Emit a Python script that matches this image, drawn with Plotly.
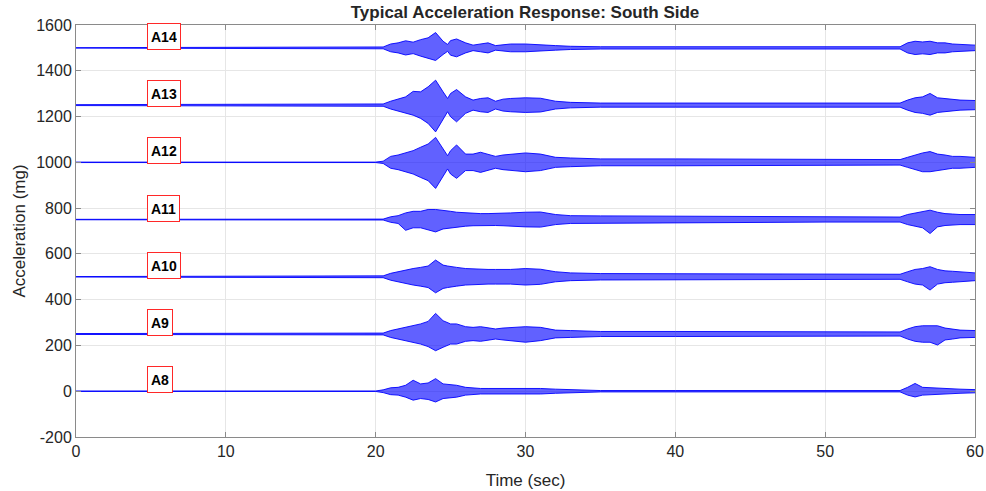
import plotly.graph_objects as go

# Time grid (sec) at which the signal envelopes were read
time_s = [0, 20, 20.5, 21, 21.5, 22, 22.5, 23, 23.5, 24, 24.5, 24.8, 25, 25.4, 26, 26.5, 27, 27.5, 28, 28.5,
          29, 30, 31, 32, 33, 35, 40, 44, 50, 55, 55.5, 56, 56.5, 57, 57.5, 58, 58.5, 59, 60]

channels = ["A14", "A13", "A12", "A11", "A10", "A9", "A8"]
offsets_mg = [1500, 1250, 1000, 750, 500, 250, 0]

# Envelope amplitudes (mg) above / below each channel's offset
A14_upper = [1, 1, 4, 17, 22, 31, 25, 36, 44, 67, 29, 15, 32, 39, 22, 12, 17, 22, 10, 15,
             17, 17, 15, 10, 7, 5, 5, 5, 5, 5, 22, 29, 26, 29, 22, 22, 17, 15, 12]
A14_lower = [1, 1, 4, 17, 22, 31, 25, 36, 44, 55, 29, 15, 32, 39, 22, 12, 17, 22, 10, 15,
             17, 17, 15, 10, 7, 5, 5, 5, 5, 5, 22, 29, 26, 29, 22, 22, 17, 15, 12]
A13_upper = [2, 2, 5, 17, 26, 36, 60, 58, 80, 109, 58, 29, 51, 68, 36, 22, 29, 32, 17, 26,
             29, 32, 30, 17, 12, 9, 9, 9, 9, 9, 22, 32, 36, 51, 32, 29, 26, 22, 20]
A13_lower = [2, 2, 5, 17, 26, 36, 44, 58, 80, 117, 58, 29, 51, 73, 36, 22, 29, 32, 17, 26,
             29, 32, 30, 17, 12, 9, 9, 9, 9, 9, 22, 32, 36, 44, 32, 29, 26, 22, 20]
A12_upper = [1, 1, 5, 26, 32, 41, 51, 66, 80, 109, 58, 29, 51, 76, 36, 36, 44, 36, 26, 32,
             36, 41, 36, 22, 19, 15, 15, 14, 13, 12, 22, 32, 41, 47, 36, 32, 26, 26, 22]
A12_lower = [1, 1, 5, 26, 32, 41, 51, 66, 80, 114, 58, 29, 51, 70, 36, 36, 44, 36, 26, 32,
             36, 41, 36, 22, 19, 15, 15, 14, 13, 12, 22, 32, 41, 41, 36, 32, 26, 26, 22]
A11_upper = [1, 1, 2, 12, 17, 29, 36, 36, 44, 44, 41, 38, 36, 32, 29, 27, 26, 26, 26, 27,
             29, 32, 33, 22, 17, 16, 15, 12, 11, 11, 22, 29, 36, 41, 32, 26, 24, 22, 22]
A11_lower = [1, 1, 2, 12, 17, 47, 36, 36, 44, 54, 41, 38, 36, 32, 29, 27, 26, 26, 26, 27,
             29, 32, 33, 22, 17, 16, 15, 12, 11, 11, 22, 29, 36, 61, 32, 26, 24, 22, 22]
A10_upper = [1, 1, 4, 15, 22, 32, 36, 41, 47, 73, 51, 47, 44, 41, 36, 34, 32, 32, 32, 32,
             32, 36, 33, 22, 17, 14, 14, 12, 11, 11, 22, 32, 36, 44, 32, 26, 24, 22, 17]
A10_lower = [1, 1, 4, 15, 22, 32, 36, 41, 47, 70, 51, 47, 44, 41, 36, 34, 32, 32, 32, 32,
             32, 36, 33, 22, 17, 14, 14, 12, 11, 11, 22, 32, 36, 58, 32, 26, 24, 22, 17]
A9_upper = [2, 2, 4, 15, 22, 29, 36, 44, 55, 90, 58, 50, 44, 44, 32, 29, 32, 27, 22, 26,
            29, 32, 29, 17, 15, 11, 11, 10, 9, 9, 22, 32, 36, 36, 36, 26, 22, 17, 15]
A9_lower = [2, 2, 4, 15, 22, 29, 36, 44, 55, 73, 58, 50, 44, 44, 32, 29, 32, 27, 22, 26,
            29, 36, 29, 17, 15, 11, 11, 10, 9, 9, 22, 32, 36, 36, 48, 26, 22, 17, 15]
A8_upper = [1, 1, 6, 15, 17, 26, 48, 32, 36, 55, 32, 30, 29, 26, 17, 14, 12, 12, 12, 13,
            15, 15, 12, 9, 6, 3, 3, 3, 3, 3, 17, 34, 17, 15, 13, 12, 10, 9, 7]
A8_lower = [1, 1, 6, 15, 17, 26, 39, 32, 36, 47, 32, 30, 29, 26, 17, 14, 12, 12, 12, 13,
            15, 15, 12, 9, 6, 3, 3, 3, 3, 3, 17, 25, 17, 15, 13, 12, 10, 9, 7]

uppers = [A14_upper, A13_upper, A12_upper, A11_upper, A10_upper, A9_upper, A8_upper]
lowers = [A14_lower, A13_lower, A12_lower, A11_lower, A10_lower, A9_lower, A8_lower]

x_ticks = [0, 10, 20, 30, 40, 50, 60]
y_ticks = [-200, 0, 200, 400, 600, 800, 1000, 1200, 1400, 1600]
y_tick_labels = ["-200", "0", "200", "400", "600", "800", "1000", "1200", "1400", "1600"]

BLUE = "rgb(0,0,255)"
FONT = "Liberation Sans, Arial"
fig = go.Figure()
for name, off, up, lo in zip(channels, offsets_mg, uppers, lowers):
    fig.add_trace(go.Scatter(x=time_s, y=[off + v for v in up], mode="lines",
                             line=dict(color=BLUE, width=0.9), showlegend=False, hoverinfo="skip"))
    fig.add_trace(go.Scatter(x=time_s, y=[off - v for v in lo], mode="lines",
                             line=dict(color=BLUE, width=0.9), fill="tonexty",
                             fillcolor="rgba(0,0,255,0.62)", showlegend=False, hoverinfo="skip"))
    fig.add_annotation(x=4.75, y=off + 50, xref="x", yref="y", xanchor="left",
                       text="<b>%s</b>" % name,
                       showarrow=False, font=dict(family=FONT, size=14, color="black"),
                       bgcolor="white", bordercolor="rgb(255,40,40)", borderwidth=1, borderpad=3,
                       height=19, align="center", valign="middle")

axis_common = dict(showline=True, linecolor="#8a8a8a", linewidth=1, mirror="ticks",
                   ticks="inside", ticklen=5, tickcolor="#8a8a8a", showgrid=True,
                   gridcolor="#e6e6e6", gridwidth=1, zeroline=False, automargin=False,
                   tickfont=dict(family=FONT, size=16, color="#262626"))

fig.update_layout(
    width=986, height=491,
    margin=dict(l=76, r=11, t=25, b=54, autoexpand=False),
    paper_bgcolor="white", plot_bgcolor="white",
    title=dict(text="<b>Typical Acceleration Response: South Side</b>", x=0.5325, xanchor="center",
               y=0.975, yanchor="middle",
               font=dict(family=FONT, size=17, color="#262626")),
    xaxis=dict(range=[0, 60], tickvals=x_ticks,
               title=dict(text="Time (sec)", standoff=14,
                          font=dict(family=FONT, size=17, color="#262626")),
               **axis_common),
    yaxis=dict(range=[-200, 1600], tickvals=y_ticks, ticktext=y_tick_labels,
               title=dict(text="Acceleration (mg)", standoff=6,
                          font=dict(family=FONT, size=17, color="#262626")),
               **axis_common),
    hovermode=False,
)

fig.write_html("out.html")
